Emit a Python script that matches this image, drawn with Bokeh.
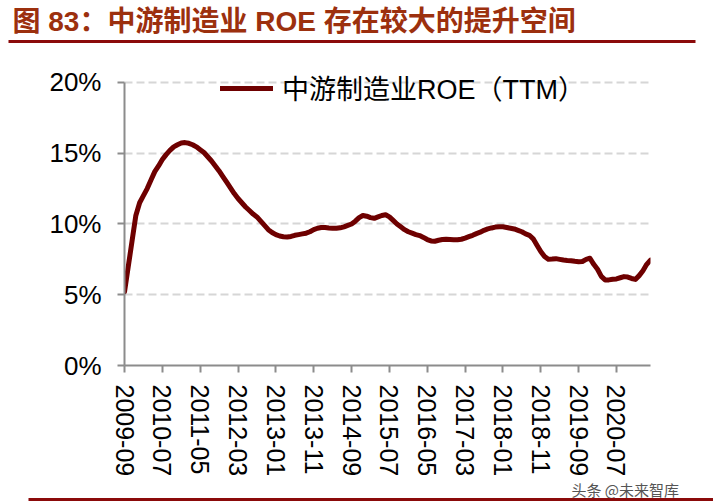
import pandas as pd
from bokeh.plotting import figure
from bokeh.layouts import column
from bokeh.models import (Range1d, FixedTicker, Label, Legend, LegendItem,
                          BoxAnnotation, ColumnDataSource)
from bokeh.embed import file_html
from bokeh.resources import INLINE

# Monthly observations, 2009-09 .. 2021-04
months = [str(p) for p in pd.period_range("2009-09", "2021-04", freq="M")]

# ROE (TTM) of midstream manufacturing, in %
roe_ttm = [
    5.2, 7.0, 8.8, 10.6, 11.5, 12.0, 12.5, 13.1, 13.7, 14.1,
    14.55, 14.9, 15.2, 15.45, 15.6, 15.72, 15.75, 15.7, 15.6, 15.45,
    15.25, 15.05, 14.75, 14.45, 14.1, 13.75, 13.35, 12.95, 12.55, 12.15,
    11.8, 11.5, 11.2, 10.95, 10.7, 10.5, 10.2, 9.9, 9.6, 9.4,
    9.25, 9.15, 9.1, 9.08, 9.12, 9.2, 9.25, 9.3, 9.35, 9.45,
    9.6, 9.7, 9.75, 9.75, 9.72, 9.7, 9.7, 9.73, 9.8, 9.9,
    10.0, 10.2, 10.45, 10.6, 10.55, 10.45, 10.4, 10.5, 10.6, 10.65,
    10.5, 10.25, 10.0, 9.8, 9.6, 9.45, 9.35, 9.25, 9.18, 9.05,
    8.9, 8.8, 8.78, 8.85, 8.9, 8.92, 8.9, 8.88, 8.88, 8.92,
    9.0, 9.1, 9.2, 9.32, 9.42, 9.55, 9.65, 9.72, 9.78, 9.81,
    9.8, 9.75, 9.7, 9.65, 9.55, 9.45, 9.3, 9.2, 8.95, 8.5,
    8.05, 7.7, 7.5, 7.52, 7.55, 7.5, 7.45, 7.42, 7.4, 7.36,
    7.33, 7.35, 7.5, 7.58, 7.15, 6.8, 6.3, 6.05, 6.05, 6.1,
    6.12, 6.2, 6.28, 6.25, 6.15, 6.08, 6.35, 6.7, 7.15, 7.45,
]

x_tick_labels = ["2009-09", "2010-07", "2011-05", "2012-03", "2013-01",
                 "2013-11", "2014-09", "2015-07", "2016-05", "2017-03",
                 "2018-01", "2018-11", "2019-09", "2020-07"]
y_ticks = [0, 5, 10, 15, 20]
y_tick_labels = ["0%", "5%", "10%", "15%", "20%"]
grid_ticks = [5, 10, 15, 20]

series_name = "中游制造业ROE（TTM）"
title_text = "图 83：中游制造业 ROE 存在较大的提升空间"
source_text = "头条 @未来智库"

# page geometry (pixels)
W, H = 713, 504
HEAD_H = 44                 # heading strip
FOOT_H = 25                 # footer strip
MAIN_H = H - HEAD_H - FOOT_H
F_LEFT, F_RIGHT, F_BOTTOM = 124, 650, 367   # plot frame on the page
Y_TOP_PX = 82               # where the 20% line sits
F_TOP = 75                  # frame top, a little above 20% so the key is not clipped
PX_PER_PCT = (F_BOTTOM - Y_TOP_PX) / y_ticks[-1]
Y_MAX = (F_BOTTOM - F_TOP) / PX_PER_PCT

LATIN = "Liberation Sans"
MIXED = "Liberation Sans, Noto Sans CJK SC"
LINE_RED = "#6E0000"
RULE_RED = "#8B0A0A"
TITLE_RED = "#9C300E"
AXIS_GREY = "#8C8C8C"


def strip(height):
    """A bare figure whose data units are page pixels (y grows downward)."""
    s = figure(width=W, height=height, output_backend="svg", toolbar_location=None,
               x_range=Range1d(0, W), y_range=Range1d(height, 0),
               x_axis_type=None, y_axis_type=None, min_border=0)
    s.frame_align = False
    s.outline_line_color = None
    s.grid.visible = False
    s.background_fill_color = "white"
    s.border_fill_color = "white"
    return s


# ---- heading: title and red rule
head = strip(HEAD_H)
head.add_layout(Label(x=12, y=21, text=title_text, text_font=MIXED,
                      text_font_size="28px", text_font_style="bold",
                      text_color=TITLE_RED, text_baseline="middle",
                      text_align="left"))
head.add_layout(BoxAnnotation(left=8, right=695, top=39.5, bottom=42.5,
                              fill_color=RULE_RED, fill_alpha=1, line_color=None))

# ---- main chart
src = ColumnDataSource(dict(x=list(range(len(months))), roe=roe_ttm, month=months))

p = figure(width=W, height=MAIN_H, output_backend="svg", toolbar_location=None,
           x_range=Range1d(0, len(months) - 1), y_range=Range1d(0, Y_MAX),
           min_border_left=F_LEFT, min_border_right=W - F_RIGHT,
           min_border_top=F_TOP - HEAD_H,
           min_border_bottom=(H - FOOT_H) - F_BOTTOM)
p.frame_align = False
p.outline_line_color = None
p.background_fill_color = "white"
p.border_fill_color = "white"

p.xgrid.visible = False
p.ygrid.ticker = FixedTicker(ticks=grid_ticks)
p.ygrid.grid_line_color = "#D6D6D6"
p.ygrid.grid_line_width = 2
p.ygrid.grid_line_dash = "8 4"

for ax in (p.xaxis[0], p.yaxis[0]):
    ax.axis_line_color = AXIS_GREY
    ax.axis_line_width = 2
    ax.major_tick_line_color = AXIS_GREY
    ax.major_tick_line_width = 2
    ax.major_tick_out = 7
    ax.major_tick_in = 0
    ax.minor_tick_out = 0
    ax.minor_tick_in = 0
    ax.major_label_text_font = LATIN
    ax.major_label_text_color = "black"

x_ticks = [months.index(lbl) for lbl in x_tick_labels]
p.xaxis.ticker = FixedTicker(ticks=x_ticks)
p.xaxis.major_label_overrides = dict(zip(x_ticks, x_tick_labels))
p.xaxis.major_label_orientation = "vertical"
p.xaxis.major_label_text_font_size = "25px"
p.xaxis.major_label_standoff = 12

p.yaxis.ticker = FixedTicker(ticks=y_ticks)
p.yaxis.bounds = (y_ticks[0], y_ticks[-1])
p.yaxis.major_label_overrides = dict(zip(y_ticks, y_tick_labels))
p.yaxis.major_label_text_font_size = "26px"
p.yaxis.major_label_standoff = 16

r = p.line(x="x", y="roe", source=src, line_color=LINE_RED, line_width=5,
           line_join="round", line_cap="round")

legend = Legend(items=[LegendItem(label=series_name, renderers=[r])],
                location=(96, 258), orientation="vertical",
                border_line_color=None, background_fill_alpha=0,
                padding=0, margin=0, spacing=0,
                glyph_width=53, glyph_height=32, label_height=32,
                label_standoff=9, label_text_font_size="27px",
                label_text_font=MIXED, label_text_color="black")
p.add_layout(legend)

# ---- footer: source note and red rule
foot = strip(FOOT_H)
foot.add_layout(Label(x=571, y=9.5, text=source_text, text_font="Noto Sans CJK SC",
                      text_font_size="15px", text_color="#555555",
                      text_baseline="middle", text_align="left"))
foot.add_layout(BoxAnnotation(left=28, right=W, top=18.5, bottom=21.5,
                              fill_color=RULE_RED, fill_alpha=1, line_color=None))

page = column(head, p, foot, spacing=0)
open("out.html", "w").write(file_html(page, INLINE))
